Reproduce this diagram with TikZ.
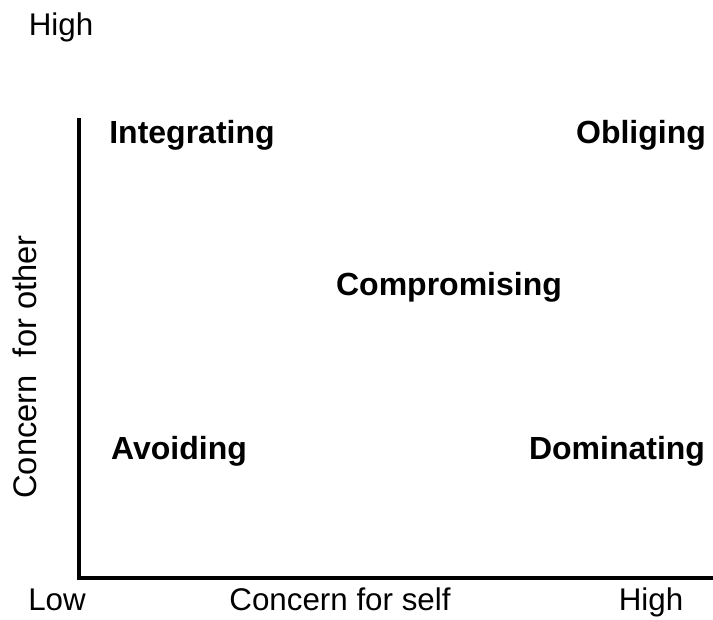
\documentclass[tikz,border=0pt]{standalone}
\usepackage{fontspec}
\setmainfont{Liberation Sans}
\usepackage{tikz}
\usetikzlibrary{positioning}

\begin{document}
\begin{tikzpicture}[x=0.75pt,y=-0.75pt,
  style/.style={font=\fontsize{24}{28}\selectfont\bfseries},
  axlabel/.style={font=\fontsize{23.5}{28}\selectfont,anchor=base,inner sep=0pt}]
 \useasboundingbox (0,0) rectangle (713,619);
 \def\lw{2.3pt} % grosor de ejes
 \coordinate (O) at (79,578);
 \coordinate (ytop) at (79,118);
 \coordinate (xend) at (713,578);
% ejes
 \draw[line width=\lw] (ytop) -- (O) -- (xend);
% etiquetas de ejes
 \node[axlabel] (hightop) at (61,35) {High};
 \node[axlabel] (low) at (57,610) {Low};
 \node[axlabel] (self) at (340,610) {Concern for self};
 \node[axlabel] (highright) at (651,610) {High};
 \node[axlabel,anchor=center,font=\fontsize{24.5}{28}\selectfont,rotate=90] (other) at (25,367) {Concern\ \ for other};
% estilos
 \node[style] (integ) at (192,135) {Integrating};
 \node[style] (oblig) at (641,135) {Obliging};
 \node[style] (comp) at (449,287) {Compromising};
 \node[style] (avoid) at (179,451) {Avoiding};
 \node[style] (domin) at (617,451) {Dominating};
\end{tikzpicture}
\end{document}
